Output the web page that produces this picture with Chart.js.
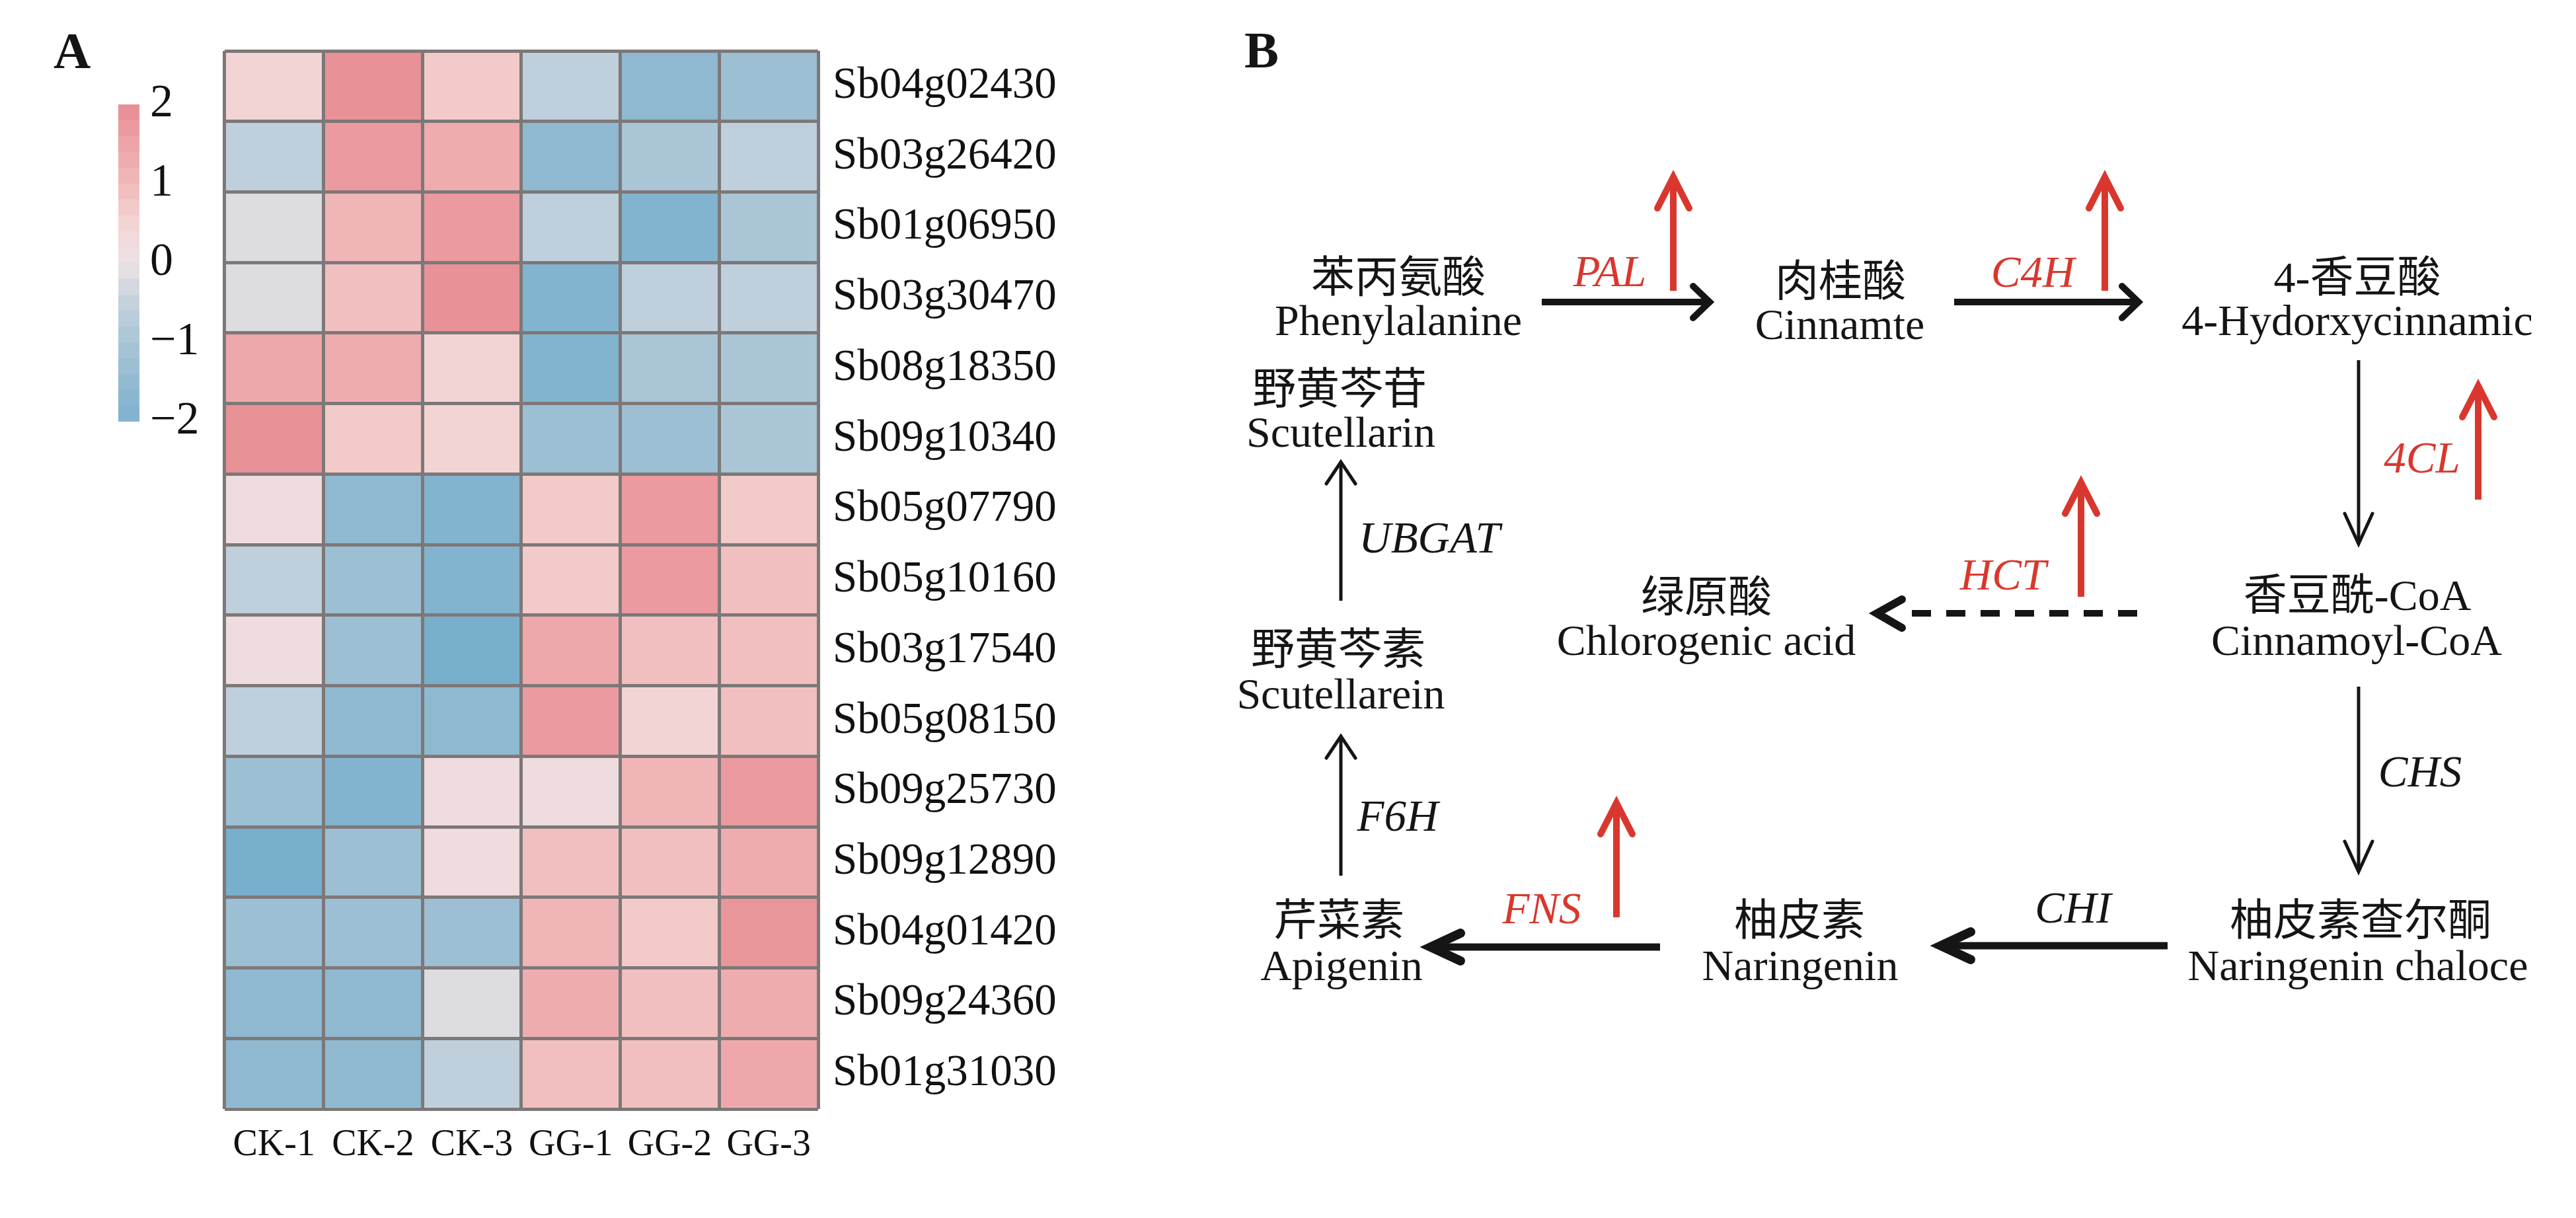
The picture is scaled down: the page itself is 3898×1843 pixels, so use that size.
<!DOCTYPE html>
<html>
<head>
<meta charset="utf-8">
<script src="https://cdn.jsdelivr.net/npm/chart.js@4.4.1/dist/chart.umd.min.js"></script>
<style>
  body { margin: 0; background: #fff; width: 3898px; height: 1843px; overflow: hidden; position: relative; }
  #heat { position: absolute; left: 330px; top: 0; }
  #bar { position: absolute; left: 150px; top: 100px; }
  #path { position: absolute; left: 0; top: 0; }
  #path text { font-family: 'Liberation Serif', 'Noto Sans CJK SC'; font-size: 66px; fill: #151515; }
</style>
</head>
<body>
<canvas id="bar" width="180" height="600"></canvas>
<canvas id="heat" width="1370" height="1843"></canvas>
<svg id="path" width="3898" height="1843" xmlns="http://www.w3.org/2000/svg"></svg>
<script>
// heatmap data (z-scores), rows top to bottom
const genes = ['Sb04g02430', 'Sb03g26420', 'Sb01g06950', 'Sb03g30470', 'Sb08g18350',
  'Sb09g10340', 'Sb05g07790', 'Sb05g10160', 'Sb03g17540', 'Sb05g08150',
  'Sb09g25730', 'Sb09g12890', 'Sb04g01420', 'Sb09g24360', 'Sb01g31030'];
const samples = ['CK-1', 'CK-2', 'CK-3', 'GG-1', 'GG-2', 'GG-3'];
const ck1 = [0.5, -0.6, -0.2, -0.2, 1.4, 1.9, 0.2, -0.6, 0.2, -0.6, -1.3, -2.1, -1.3, -1.6, -1.6];
const ck2 = [1.9, 1.7, 1.1, 0.9, 1.3, 0.7, -1.6, -1.3, -1.3, -1.6, -1.9, -1.3, -1.3, -1.6, -1.6];
const ck3 = [0.7, 1.3, 1.7, 1.9, 0.5, 0.5, -1.9, -1.9, -2.1, -1.6, 0.2, 0.2, -1.3, -0.2, -0.6];
const gg1 = [-0.6, -1.6, -0.6, -1.9, -1.9, -1.3, 0.7, 0.7, 1.4, 1.7, 0.2, 0.9, 1.1, 1.3, 0.9];
const gg2 = [-1.6, -1.0, -1.9, -0.6, -1.0, -1.3, 1.7, 1.7, 0.9, 0.5, 1.1, 0.9, 0.7, 0.9, 0.9];
const gg3 = [-1.3, -0.6, -1.0, -0.6, -1.0, -1.0, 0.7, 0.9, 0.9, 0.9, 1.7, 1.3, 1.8, 1.3, 1.4];

// colour key
const keyTicks = [-2, -1, 0, 1, 2];
const keyEdges = [-2, -1.8, -1.6, -1.4, -1.2, -1, -0.8, -0.6, -0.4, -0.2, 0,
  0.2, 0.4, 0.6, 0.8, 1, 1.2, 1.4, 1.6, 1.8, 2];

const colorStops = [
  [-2.2, 112, 172, 203], [-2, 126, 178, 206], [-1.5, 146, 187, 210], [-1, 170, 197, 214],
  [-0.5, 196, 210, 220], [0, 236, 226, 229], [0.5, 243, 212, 212], [1, 241, 186, 187],
  [1.5, 237, 163, 167], [2, 231, 141, 147]
];
function colorFor(v) {
  if (v <= colorStops[0][0]) return 'rgb(' + colorStops[0].slice(1).join(',') + ')';
  for (let i = 1; i < colorStops.length; i++) {
    const a = colorStops[i - 1], b = colorStops[i];
    if (v <= b[0]) {
      const t = (v - a[0]) / (b[0] - a[0]);
      const c = [1, 2, 3].map(k => Math.round(a[k] + (b[k] - a[k]) * t));
      return 'rgb(' + c.join(',') + ')';
    }
  }
  const l = colorStops[colorStops.length - 1];
  return 'rgb(' + l.slice(1).join(',') + ')';
}

Chart.defaults.font.family = "'Liberation Serif', serif";
Chart.defaults.color = '#111';
const gridColor = '#7d7878';

const rows = genes.map((g, i) => [ck1[i], ck2[i], ck3[i], gg1[i], gg2[i], gg3[i]]);
const heatSets = rows.map((vals, i) => ({
  label: genes[i],
  data: samples.map(() => 1),
  backgroundColor: vals.map(colorFor),
  borderWidth: 0,
  barPercentage: 1,
  categoryPercentage: 1
})).reverse(); // first dataset sits at the bottom of the stack

new Chart(document.getElementById('heat'), {
  type: 'bar',
  data: { labels: samples, datasets: heatSets },
  options: {
    responsive: false,
    animation: false,
    layout: { padding: { left: 6, top: 77, right: 0, bottom: 0 } },
    plugins: { legend: { display: false }, tooltip: { enabled: false } },
    scales: {
      x: {
        stacked: true,
        offset: true,
        grid: { offset: true, color: gridColor, lineWidth: 5, drawTicks: false, z: 1 },
        border: { display: false },
        ticks: { font: { size: 56 }, padding: 22 },
        afterFit: s => { s.height = 165; }
      },
      y: {
        stacked: true,
        min: 0, max: 15,
        position: 'left',
        ticks: { display: false, stepSize: 1, maxTicksLimit: 20 },
        grid: { color: gridColor, lineWidth: 5, drawTicks: false, z: 1 },
        border: { display: false },
        afterFit: s => { s.width = 0; }
      },
      genes: {
        type: 'category',
        labels: genes,
        position: 'right',
        offset: true,
        grid: { display: false, drawTicks: false },
        border: { display: false },
        ticks: { font: { size: 67 }, padding: 22, autoSkip: false },
        afterFit: s => { s.width = 462; }
      }
    }
  }
});

const keySets = keyEdges.slice(0, -1).map((lo, i) => ({
  data: [[lo, keyEdges[i + 1]]],
  backgroundColor: colorFor((lo + keyEdges[i + 1]) / 2),
  borderWidth: 0,
  grouped: false,
  barPercentage: 1,
  categoryPercentage: 1
}));

new Chart(document.getElementById('bar'), {
  type: 'bar',
  data: { labels: [''], datasets: keySets },
  options: {
    responsive: false,
    animation: false,
    layout: { padding: { left: 29, top: 41, right: 0, bottom: 62 } },
    plugins: { legend: { display: false }, tooltip: { enabled: false } },
    scales: {
      x: { display: false },
      y: {
        min: keyTicks[0], max: keyTicks[keyTicks.length - 1],
        position: 'right',
        grid: { display: false, drawTicks: false },
        border: { display: false },
        ticks: {
          stepSize: 1,
          font: { size: 70 },
          padding: 16,
          callback: v => v < 0 ? '\u2212' + Math.abs(v) : String(v)
        },
        afterFit: s => { s.width = 119; }
      }
    }
  }
});

// panel B: pathway sketch
const svg = document.getElementById('path');
const NS = 'http://www.w3.org/2000/svg';
const RED = '#d9372e', INK = '#151515';
function el(tag, attrs, text) {
  const e = document.createElementNS(NS, tag);
  for (const k in attrs) e.setAttribute(k, attrs[k]);
  if (text) e.textContent = text;
  svg.appendChild(e);
  return e;
}
function txt(s, x, y, extra) {
  el('text', Object.assign({ x: x, y: y, 'text-anchor': 'middle' }, extra || {}), s);
}
function arrow(x1, y1, x2, y2, o) {
  const len = Math.hypot(x2 - x1, y2 - y1);
  const ux = (x2 - x1) / len, uy = (y2 - y1) / len;
  const nx = -uy, ny = ux;
  const ex = x2 - ux * o.w * 0.5, ey = y2 - uy * o.w * 0.5;
  el('line', { x1: x1, y1: y1, x2: ex, y2: ey, stroke: o.c, 'stroke-width': o.w });
  const ax = x2 - ux * o.L, ay = y2 - uy * o.L;
  const pts = [[ax + nx * o.W, ay + ny * o.W], [x2, y2], [ax - nx * o.W, ay - ny * o.W]];
  el('polyline', {
    points: pts.map(p => p.join(',')).join(' '), fill: 'none', stroke: o.c,
    'stroke-width': o.hw || o.w, 'stroke-linecap': 'round', 'stroke-linejoin': 'miter'
  });
}

el('text', { x: 81, y: 103, style: 'font-weight:bold;font-size:78px' }, 'A');
el('text', { x: 1883, y: 102, style: 'font-weight:bold;font-size:78px' }, 'B');

[
  ['苯丙氨酸', 2116, 442], ['Phenylalanine', 2116, 507],
  ['肉桂酸', 2785, 448], ['Cinnamte', 2784, 513],
  ['4-香豆酸', 3567, 442], ['4-Hydorxycinnamic', 3567, 507],
  ['野黄芩苷', 2027, 611], ['Scutellarin', 2029, 676],
  ['绿原酸', 2582, 926], ['Chlorogenic acid', 2582, 991],
  ['香豆酰-CoA', 3567, 923], ['Cinnamoyl-CoA', 3566, 991],
  ['野黄芩素', 2025, 1005], ['Scutellarein', 2029, 1072],
  ['芹菜素', 2026, 1415], ['Apigenin', 2030, 1483],
  ['柚皮素', 2723, 1415], ['Naringenin', 2724, 1483],
  ['柚皮素查尔酮', 3572, 1415], ['Naringenin chaloce', 3568, 1483]
].forEach(t => txt(t[0], t[1], t[2]));

[
  ['PAL', 2436, 433, RED], ['C4H', 3076, 434, RED], ['4CL', 3665, 715, RED],
  ['HCT', 3031, 892, RED], ['FNS', 2333, 1397, RED],
  ['UBGAT', 2163, 836, INK], ['CHS', 3662, 1190, INK], ['F6H', 2115, 1257, INK], ['CHI', 3137, 1396, INK]
].forEach(t => txt(t[0], t[1], t[2], { style: 'font-style:italic;font-size:67px;fill:' + t[3] }));

// main reactions
arrow(2333, 457, 2587, 457, { c: INK, w: 10, L: 25, W: 24 });
arrow(2957, 457, 3236, 457, { c: INK, w: 10, L: 25, W: 24 });
arrow(3569, 545, 3569, 823, { c: INK, w: 5, L: 46, W: 21 });
arrow(3569, 1039, 3569, 1319, { c: INK, w: 5, L: 46, W: 21 });
arrow(3280, 1431, 2937, 1431, { c: INK, w: 11, L: 45, W: 21, hw: 14 });
arrow(2512, 1433, 2165, 1433, { c: INK, w: 11, L: 45, W: 21, hw: 14 });
arrow(2029, 1325, 2029, 1114, { c: INK, w: 5, L: 33, W: 22 });
arrow(2029, 909, 2029, 699, { c: INK, w: 5, L: 33, W: 22 });
// dashed branch to chlorogenic acid
el('line', { x1: 2893, y1: 928, x2: 3239, y2: 928, stroke: INK, 'stroke-width': 10, 'stroke-dasharray': '29 23' });
el('polyline', { points: '2878,907 2840,928 2878,950', fill: 'none', stroke: INK, 'stroke-width': 12, 'stroke-linecap': 'round' });

// up-regulated enzymes
[[2532, 440, 268], [3185, 440, 268], [3750, 756, 584], [3149, 903, 730], [2446, 1388, 1215]]
  .forEach(a => arrow(a[0], a[1], a[0], a[2], { c: RED, w: 10, L: 47, W: 24 }));
</script>
</body>
</html>
